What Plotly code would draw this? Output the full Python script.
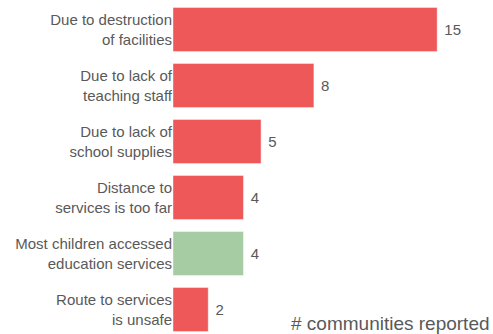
import plotly.graph_objects as go

categories = [
    "Due to destruction<br>of facilities",
    "Due to lack of<br>teaching staff",
    "Due to lack of<br>school supplies",
    "Distance to<br>services is too far",
    "Most children accessed<br>education services",
    "Route to services<br>is unsafe",
]
values = [15, 8, 5, 4, 4, 2]
bar_colors = ["#EE5859", "#EE5859", "#EE5859", "#EE5859", "#A5CCA2", "#EE5859"]
axis_title = "# communities reported"

text_color = "#595959"
font_family = "Liberation Sans, Arial, sans-serif"

fig = go.Figure(
    go.Bar(
        x=values,
        y=categories,
        orientation="h",
        marker=dict(color=bar_colors, line=dict(color="rgba(255,255,255,0.4)", width=1)),
        text=values,
        texttemplate=" %{text}",
        textposition="outside",
        textfont=dict(size=15, color=text_color, family=font_family),
        cliponaxis=False,
        hoverinfo="skip",
    )
)

fig.update_layout(
    width=493,
    height=334,
    margin=dict(l=173, r=0, t=0, b=0),
    paper_bgcolor="white",
    plot_bgcolor="white",
    bargap=0.214,
    showlegend=False,
    font=dict(family=font_family, size=15, color=text_color),
    xaxis=dict(
        range=[0, 18.17],
        visible=False,
        showgrid=False,
        zeroline=False,
    ),
    yaxis=dict(
        type="category",
        range=[5.4375, -0.5268],
        showgrid=False,
        zeroline=False,
        showline=False,
        ticks="",
        ticklabelstandoff=0,
        tickfont=dict(size=15, color=text_color, family=font_family),
        automargin=False,
    ),
    annotations=[
        dict(
            text=axis_title,
            x=1,
            y=(334 - 323) / 334,
            xref="paper",
            yref="paper",
            xanchor="right",
            yanchor="middle",
            xshift=-1,
            showarrow=False,
            font=dict(size=19, color=text_color, family=font_family),
        )
    ],
)

fig.write_html(
    "out.html",
    config={"displayModeBar": False},
    post_script="document.body.style.margin='0';document.body.style.overflow='hidden';",
)
